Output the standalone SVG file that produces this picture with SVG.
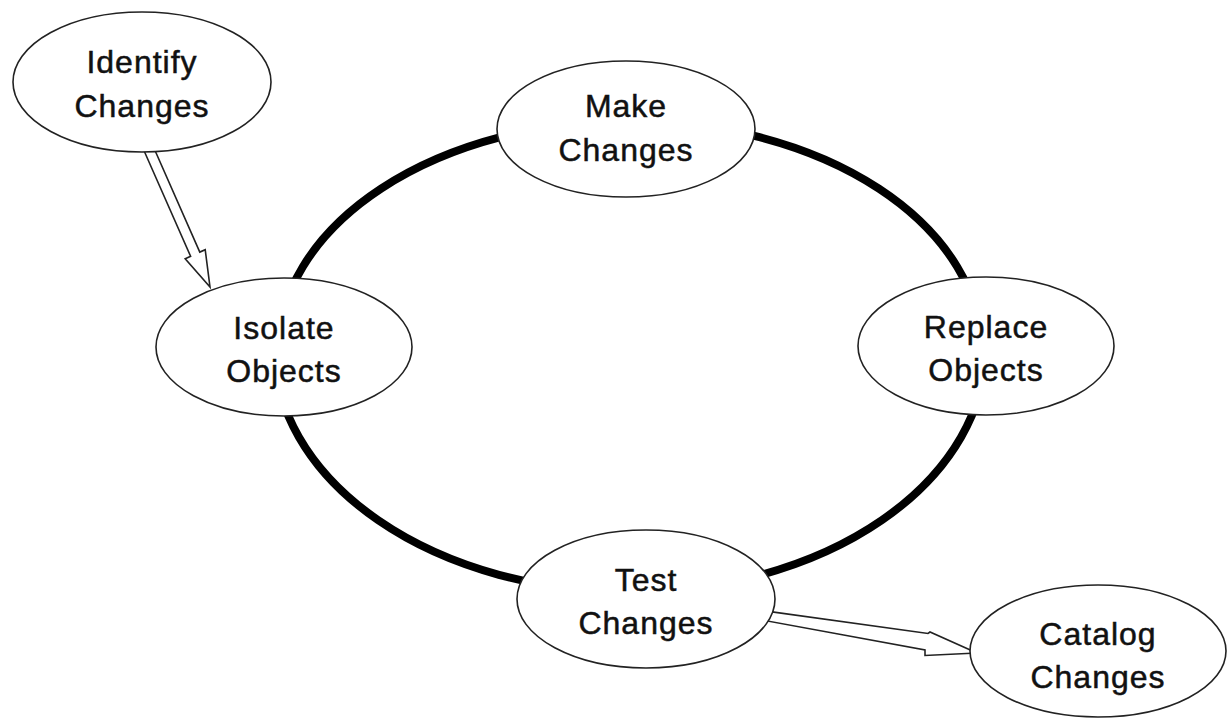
<svg xmlns="http://www.w3.org/2000/svg" width="1227" height="719" viewBox="0 0 1227 719">
<style>
.ring{fill:none;stroke:#000;stroke-width:8}
.arrow{fill:#fff;stroke:#222;stroke-width:1.6;stroke-linejoin:miter}
.node ellipse{fill:#fff;stroke:#222;stroke-width:1.6}
.node text{font-family:"Liberation Sans",Arial,sans-serif;font-size:32px;letter-spacing:1px;fill:#111;stroke:#111;stroke-width:0.5;text-anchor:middle}
</style>
<rect width="1227" height="719" fill="#fff"/>
<g id="connectors">
<path class="ring" d="M 278 352 A 352 231 0 0 1 982 352"/>
<path class="ring" d="M 274 347 A 356 245 0 0 0 986 347"/>
<polygon class="arrow" points="141.4,144.7 190.6,256.3 185.2,258.7 210,287 205.2,249.7 199.8,252.1 150.6,140.5"/>
<polygon class="arrow" points="763,610.6 928,633.5 930,632 977,653 925,655.5 925,650 763,620.2"/>
</g>
<g id="identify" class="node"><ellipse cx="142" cy="82" rx="129" ry="70"/><text x="142" y="73">Identify</text><text x="142" y="117">Changes</text></g>
<g id="make" class="node"><ellipse cx="626" cy="129" rx="129" ry="68"/><text x="626" y="117">Make</text><text x="626" y="161">Changes</text></g>
<g id="isolate" class="node"><ellipse cx="284" cy="347" rx="128" ry="69"/><text x="284" y="339">Isolate</text><text x="284" y="382">Objects</text></g>
<g id="replace" class="node"><ellipse cx="986" cy="346" rx="128" ry="69"/><text x="986" y="338">Replace</text><text x="986" y="381">Objects</text></g>
<g id="test" class="node"><ellipse cx="646" cy="599" rx="129" ry="69"/><text x="646" y="591">Test</text><text x="646" y="634">Changes</text></g>
<g id="catalog" class="node"><ellipse cx="1098" cy="651" rx="128" ry="66"/><text x="1098" y="645">Catalog</text><text x="1098" y="688">Changes</text></g>
</svg>
